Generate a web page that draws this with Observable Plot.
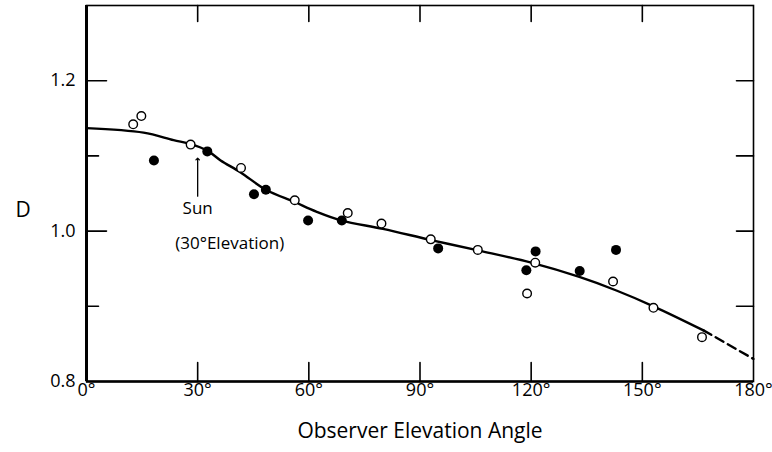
<!DOCTYPE html>
<html>
<head>
<meta charset="utf-8">
<script src="https://cdn.jsdelivr.net/npm/d3@7"></script>
<script src="https://cdn.jsdelivr.net/npm/@observablehq/plot@0.6"></script>
<style>
  html, body { margin: 0; padding: 0; background: #fff; }
  #chart svg { display: block; }
</style>
</head>
<body>
<div id="chart"></div>
<script>
// Measured D versus observer elevation angle (degrees)
const openAngles = [12.6, 14.8, 28.1, 41.7, 56.2, 70.5, 79.6, 92.9, 105.6, 118.9, 121.1, 142.1, 153.0, 166.1];
const openValues = [1.142, 1.153, 1.115, 1.084, 1.041, 1.024, 1.010, 0.989, 0.975, 0.917, 0.958, 0.933, 0.898, 0.859];

const filledAngles = [18.2, 32.6, 45.2, 48.4, 59.8, 68.9, 94.9, 118.7, 121.2, 133.1, 142.9];
const filledValues = [1.094, 1.106, 1.049, 1.055, 1.014, 1.014, 0.977, 0.948, 0.973, 0.947, 0.975];

// Smooth fitted curve (solid part) and its extrapolation (dashed part)
const curveAngles = [0, 15.4, 23.5, 28, 32.6, 36.2, 41.6, 48.4, 56, 62, 68.9, 80, 93, 106, 120, 133, 143, 153, 166.5];
const curveValues = [1.137, 1.131, 1.121, 1.116, 1.107, 1.094, 1.078, 1.055, 1.039, 1.026, 1.014, 1.003, 0.988, 0.974, 0.958, 0.939, 0.921, 0.900, 0.868];
const extrapAngles = [166.5, 180];
const extrapValues = [0.868, 0.830];

// Sun position annotation (arrow tip just under the curve at 30°)
const sunAngle = [30];
const sunValue = [1.097];

// Axis ticks
const xTicks = [0, 30, 60, 90, 120, 150, 180];
const xInnerTicks = [30, 60, 90, 120, 150];
const yLabelTicks = [0.8, 1.0, 1.2];
const yMajorTicks = [1.0, 1.2];
const yMinorTicks = [0.9, 1.1];
const yRightTicks = [0.9, 1.0, 1.1, 1.2];

const openPts = openAngles.map((a, i) => ({angle: a, d: openValues[i]}));
const filledPts = filledAngles.map((a, i) => ({angle: a, d: filledValues[i]}));
const curve = curveAngles.map((a, i) => ({angle: a, d: curveValues[i]}));
const extrap = extrapAngles.map((a, i) => ({angle: a, d: extrapValues[i]}));
const sun = sunAngle.map((a, i) => ({angle: a, d: sunValue[i]}));

const font = "'Open Sans', Lato, sans-serif";

const chart = Plot.plot({
  width: 772,
  height: 452,
  marginLeft: 86,
  marginRight: 19,
  marginTop: 5,
  marginBottom: 71,
  style: {fontFamily: font, color: "#000", background: "#fff", overflow: "visible"},
  x: {domain: [0, 180]},
  y: {domain: [0.8, 1.3]},
  marks: [
    // frame: thin top/right, heavier left/bottom
    Plot.frame({stroke: "#000", strokeWidth: 1.6}),
    Plot.ruleX([0], {stroke: "#000", strokeWidth: 3}),
    Plot.ruleY([0.8], {stroke: "#000", strokeWidth: 2.4}),

    // inward ticks
    Plot.vector(xInnerTicks, {x: d => d, frameAnchor: "bottom", length: 19, rotate: 0, anchor: "start", r: 0, stroke: "#000", strokeWidth: 1.6}),
    Plot.vector(xInnerTicks, {x: d => d, frameAnchor: "top", length: 16, rotate: 180, anchor: "start", r: 0, stroke: "#000", strokeWidth: 1.6}),
    Plot.vector(yMajorTicks, {y: d => d, frameAnchor: "left", length: 20, rotate: 90, anchor: "start", r: 0, stroke: "#000", strokeWidth: 1.6}),
    Plot.vector(yMinorTicks, {y: d => d, frameAnchor: "left", length: 12, rotate: 90, anchor: "start", r: 0, stroke: "#000", strokeWidth: 1.6}),
    Plot.vector(yRightTicks, {y: d => d, frameAnchor: "right", length: 17, rotate: -90, anchor: "start", r: 0, stroke: "#000", strokeWidth: 1.6}),

    // tick labels
    Plot.axisX({ticks: xTicks, tickFormat: d => `${d}°`, tickSize: 0, tickPadding: 2, fontSize: 18, label: null}),
    Plot.axisY({ticks: yLabelTicks, tickFormat: d3.format(".1f"), tickSize: 0, tickPadding: 11, fontSize: 18, label: null}),

    // axis titles
    Plot.text(["Observer Elevation Angle"], {frameAnchor: "bottom", dy: 56, fontSize: 21, fill: "#000"}),
    Plot.text(["D"], {frameAnchor: "left", dx: -71, dy: 17, fontSize: 21, fill: "#000"}),

    // fitted curve
    Plot.line(curve, {x: "angle", y: "d", curve: "catmull-rom", stroke: "#000", strokeWidth: 2.4}),
    Plot.line(extrap, {x: "angle", y: "d", stroke: "#000", strokeWidth: 2.4, strokeDasharray: "9,5"}),

    // observations
    Plot.dot(filledPts, {x: "angle", y: "d", r: 5, fill: "#000", stroke: "none"}),
    Plot.dot(openPts, {x: "angle", y: "d", r: 4.3, fill: "#fff", stroke: "#000", strokeWidth: 1.4}),

    // sun annotation
    Plot.vector(sun, {x: "angle", y: "d", length: 38, rotate: 0, anchor: "end", r: 0.8, stroke: "#000", strokeWidth: 1.3}),
    Plot.text(sun, {x: "angle", y: "d", dy: 50, text: () => "Sun", fontSize: 17, fill: "#000"}),
    Plot.text(sun, {x: "angle", y: "d", dx: 32, dy: 85, text: d => `(${d.angle}°Elevation)`, fontSize: 17, fill: "#000"})
  ]
});

document.getElementById("chart").appendChild(chart);
</script>
</body>
</html>
